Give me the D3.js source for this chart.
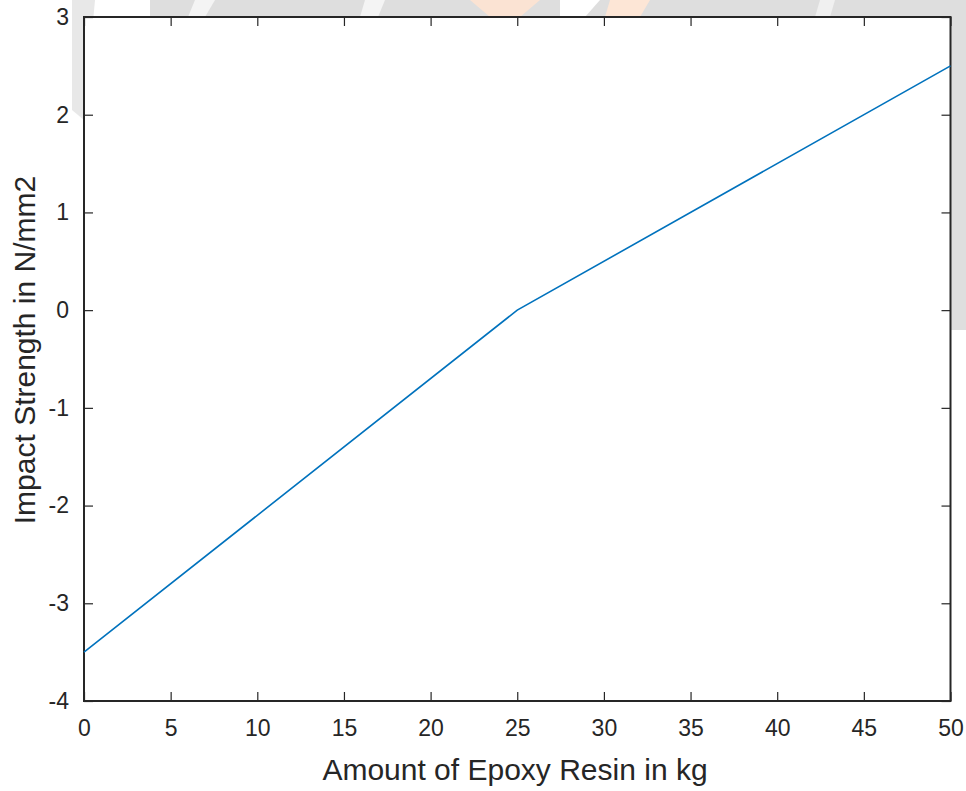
<!DOCTYPE html>
<html>
<head>
<meta charset="utf-8">
<script src="https://cdn.jsdelivr.net/npm/d3@7"></script>
<style>
  body { margin: 0; background: #ffffff; }
  svg { display: block; font-family: "Liberation Sans", Arial, sans-serif; }
</style>
</head>
<body>
<svg id="chart"></svg>
<script>
// data
var resinKg = [0, 25, 50];
var impactStrength = [-3.5, 0, 2.5];
var xTicks = [0, 5, 10, 15, 20, 25, 30, 35, 40, 45, 50];
var yTicks = [-4, -3, -2, -1, 0, 1, 2, 3];

var dimensions = {
    width: 966,
    height: 791,
    margin: { top: 17, bottom: 90, right: 15, left: 84 }
};

var svg = d3.select("#chart")
            .attr("width", dimensions.width)
            .attr("height", dimensions.height);

// faint watermark behind the figure (only visible outside the axes)
var wm = svg.append("g");
wm.append("path")
  .attr("d", "M150,0 L966,0 L966,330 L950,330 L950,17 L150,17 Z")
  .style("fill", "#dedede");
wm.append("path")
  .attr("d", "M72,0 L95,0 L84,120 L72,110 Z")
  .style("fill", "#e8e8e8");
wm.append("path").attr("d", "M195,0 L215,0 L205,17 L188,17 Z").style("fill", "#f4f4f4");
wm.append("path").attr("d", "M365,0 L385,0 L378,17 L360,17 Z").style("fill", "#f4f4f4");
wm.append("path").attr("d", "M470,0 L540,0 L520,17 L490,17 Z").style("fill", "#fbe3d3");
wm.append("path").attr("d", "M560,0 L600,0 L585,17 L560,17 Z").style("fill", "#ffffff");
wm.append("path").attr("d", "M610,0 L650,0 L640,17 L605,17 Z").style("fill", "#fde6d6");
wm.append("path").attr("d", "M820,0 L835,0 L830,17 L815,17 Z").style("fill", "#f0f0f0");

var x0 = dimensions.margin.left;
var x1 = dimensions.width - dimensions.margin.right - 0.5;
var y0 = dimensions.height - dimensions.margin.bottom;
var y1 = dimensions.margin.top;

var xScale = d3.scaleLinear().domain([0, 50]).range([x0, x1]);
var yScale = d3.scaleLinear().domain([-4, 3]).range([y0, y1]);

svg.append("rect")
   .attr("x", x0).attr("y", y1)
   .attr("width", x1 - x0).attr("height", y0 - y1)
   .style("fill", "#ffffff");

var axisColor = "#262626";
var tickLen = 9;
var fmt = function(d){ return String(d); };

function styleAxis(g, showText) {
    g.select(".domain").remove();
    g.selectAll("line").style("stroke", axisColor).style("stroke-width", 1.2);
    g.selectAll("text")
     .style("font-size", "23px")
     .style("fill", axisColor)
     .style("display", showText ? null : "none");
}

var xAxis = svg.append("g")
   .attr("transform", "translate(0," + y0 + ")")
   .call(d3.axisBottom(xScale).tickValues(xTicks).tickSize(-tickLen).tickPadding(19).tickFormat(fmt));
styleAxis(xAxis, true);

svg.append("g")
   .attr("transform", "translate(0," + y1 + ")")
   .call(d3.axisTop(xScale).tickValues(xTicks).tickSize(-tickLen))
   .call(function(g){ styleAxis(g, false); });

var yAxis = svg.append("g")
   .attr("transform", "translate(" + x0 + ",0)")
   .call(d3.axisLeft(yScale).tickValues(yTicks).tickSize(-tickLen).tickPadding(15).tickFormat(fmt));
styleAxis(yAxis, true);

svg.append("g")
   .attr("transform", "translate(" + x1 + ",0)")
   .call(d3.axisRight(yScale).tickValues(yTicks).tickSize(-tickLen))
   .call(function(g){ styleAxis(g, false); });

// box
svg.append("rect")
   .attr("x", x0).attr("y", y1)
   .attr("width", x1 - x0).attr("height", y0 - y1)
   .style("fill", "none")
   .style("stroke", axisColor)
   .style("stroke-width", 2);

var line = d3.line()
   .x(function(d, i){ return xScale(resinKg[i]); })
   .y(function(d){ return yScale(d); });

svg.append("path")
   .datum(impactStrength)
   .attr("d", line)
   .style("fill", "none")
   .style("stroke", "#0072bd")
   .style("stroke-width", 1.6);

svg.append("text")
   .attr("x", 515)
   .attr("y", 780)
   .attr("text-anchor", "middle")
   .style("font-size", "30px")
   .style("fill", axisColor)
   .text("Amount of Epoxy Resin in kg");

svg.append("text")
   .attr("transform", "rotate(-90)")
   .attr("x", -350)
   .attr("y", 35)
   .attr("text-anchor", "middle")
   .style("font-size", "30px")
   .style("fill", axisColor)
   .text("Impact Strength in N/mm2");
</script>
</body>
</html>
